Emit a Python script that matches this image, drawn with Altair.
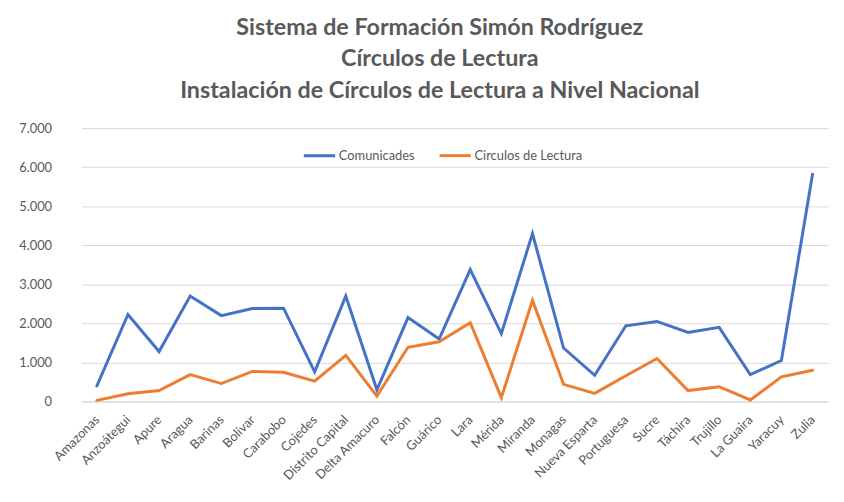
import altair as alt
import pandas as pd

estados = ["Amazonas", "Anzoátegui", "Apure", "Aragua", "Barinas", "Bolívar",
           "Carabobo", "Cojedes", "Distrito Capital", "Delta Amacuro", "Falcón",
           "Guárico", "Lara", "Mérida", "Miranda", "Monagas", "Nueva Esparta",
           "Portuguesa", "Sucre", "Táchira", "Trujillo", "La Guaira", "Yaracuy",
           "Zulia"]
comunicados = [400, 2230, 1280, 2700, 2200, 2380, 2390, 760, 2700, 300, 2150,
               1600, 3380, 1740, 4300, 1370, 670, 1940, 2050, 1770, 1900, 690,
               1050, 5820]
circulos = [30, 200, 280, 690, 460, 770, 750, 520, 1180, 140, 1390, 1530, 2020,
            100, 2590, 440, 210, 660, 1100, 280, 380, 40, 630, 800]
series = ["Comunicades", "Circulos de Lectura"]
colores = ["#4472C4", "#ED7D31"]
y_ticks = [0, 1000, 2000, 3000, 4000, 5000, 6000, 7000]
titulo = ["Sistema de Formación Simón Rodríguez",
          "Círculos de Lectura",
          "Instalación de Círculos de Lectura a Nivel Nacional"]

rows = []
for e, a, b in zip(estados, comunicados, circulos):
    rows.append({"estado": e, "serie": series[0], "valor": a})
    rows.append({"estado": e, "serie": series[1], "valor": b})
df = pd.DataFrame(rows)

FONT = "Lato"
GRAY = "#595959"

chart = alt.Chart(df).mark_line(strokeWidth=3, strokeCap="round").encode(
    x=alt.X("estado:N", sort=estados, title=None,
            scale=alt.Scale(range=[16, 770]),
            axis=alt.Axis(labelAngle=-45, labelFont=FONT, labelFontSize=13,
                          labelColor=GRAY, ticks=False, domainColor="#d9d9d9",
                          labelPadding=16, grid=False, labelAlign="right",
                          labelBaseline="middle")),
    y=alt.Y("valor:Q", title=None, scale=alt.Scale(domain=[0, 7000]),
            axis=alt.Axis(values=y_ticks,
                          labelExpr="replace(format(datum.value, ','), ',', '.')",
                          domain=False, ticks=False, gridColor="#d9d9d9",
                          labelPadding=14, labelFont=FONT, labelFontSize=13,
                          labelColor=GRAY)),
    color=alt.Color("serie:N", sort=series,
                    scale=alt.Scale(domain=series, range=colores),
                    legend=alt.Legend(title=None, orient="none", legendX=239,
                                      legendY=10, direction="horizontal",
                                      symbolType="stroke", symbolSize=1000,
                                      symbolStrokeWidth=3, labelFont=FONT,
                                      labelFontSize=13, labelColor=GRAY,
                                      columnPadding=18, labelOffset=2)),
).properties(
    width=778, height=276,
    title=alt.TitleParams(text=titulo, font=FONT, fontSize=23.5,
                          fontWeight="bold", color=GRAY, lineHeight=32,
                          anchor="middle", dx=-11, offset=20),
    autosize=alt.AutoSizeParams(type="none"),
    padding={"left": 58, "top": 119, "right": 0, "bottom": 85},
).configure_view(stroke=None)

chart.save("out.html", embed_options={"renderer": "svg", "actions": False})
